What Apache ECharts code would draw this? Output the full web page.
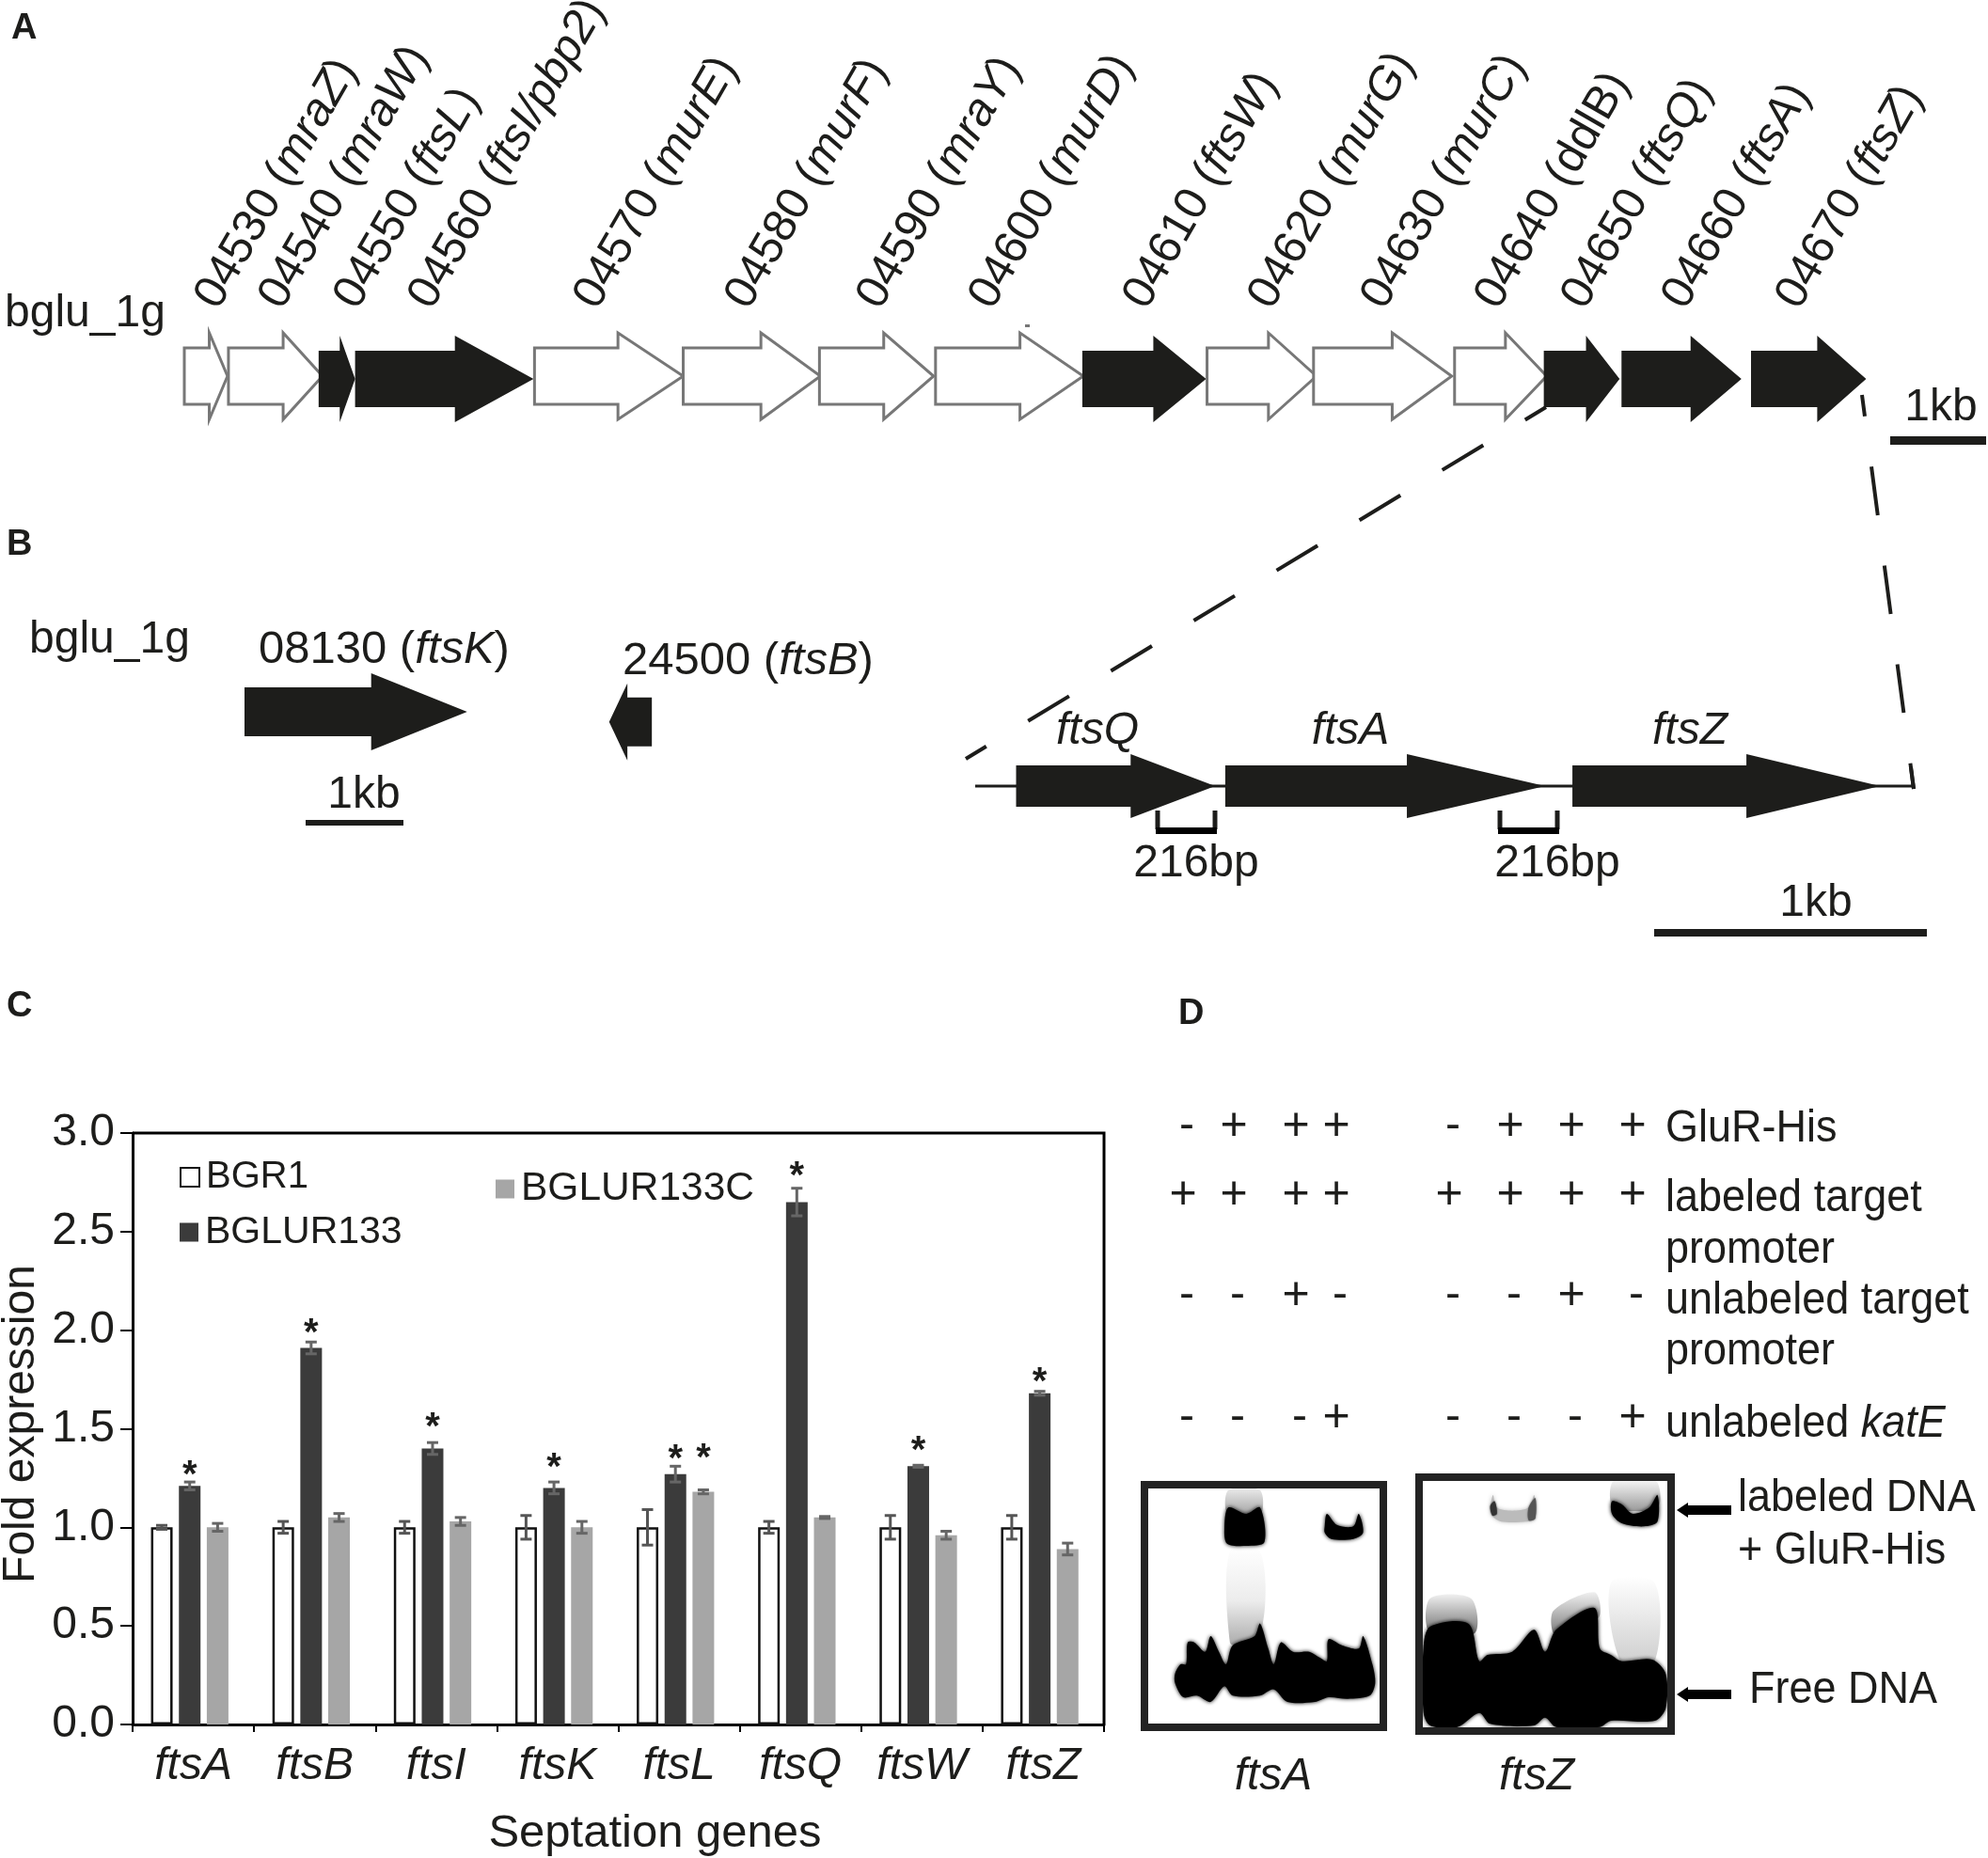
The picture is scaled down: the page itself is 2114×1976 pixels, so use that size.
<!DOCTYPE html>
<html><head><meta charset="utf-8">
<style>html,body{margin:0;padding:0;background:#fff}#c{width:2114px;height:1976px}</style>
<script src="https://cdn.jsdelivr.net/npm/echarts@6/dist/echarts.min.js"></script></head>
<body><div id="c"></div>
<script>
// ---------- data ----------
const categories = ['ftsA','ftsB','ftsI','ftsK','ftsL','ftsQ','ftsW','ftsZ'];
const bgr1      = [1.00,1.00,1.00,1.00,1.00,1.00,1.00,1.00];
const bgr1Err   = [0.01,0.03,0.03,0.06,0.09,0.03,0.06,0.06];
const mutant    = [1.21,1.91,1.40,1.20,1.27,2.65,1.31,1.68];
const mutantErr = [0.02,0.03,0.03,0.03,0.04,0.07,0.005,0.01];
const compl     = [1.00,1.05,1.03,1.00,1.18,1.05,0.96,0.89];
const complErr  = [0.02,0.02,0.02,0.03,0.01,0.005,0.02,0.03];
const mutantStars = [1.29,2.01,1.53,1.325,1.37,2.805,1.41,1.76];
const complStars  = [null,null,null,null,1.375,null,null,null];
const yTicks = ['0.0','0.5','1.0','1.5','2.0','2.5','3.0'];

// operon genes: locus, name, start kb, head base kb, end kb, essential (filled)
const geneIds   = ['04530','04540','04550','04560','04570','04580','04590','04600','04610','04620','04630','04640','04650','04660','04670'];
const geneNames = ['mraZ','mraW','ftsL','ftsI/pbp2','murE','murF','mraY','murD','ftsW','murG','murC','ddlB','ftsQ','ftsA','ftsZ'];
const geneStart = [0,0.46,1.40,1.78,3.65,5.20,6.62,7.83,9.36,10.66,11.77,13.24,14.17,14.98,16.33];
const geneBase  = [0.26,1.03,1.62,2.82,4.52,6.01,7.29,8.71,10.10,11.30,12.59,13.77,14.61,15.70,17.02];
const geneEnd   = [0.45,1.44,1.78,3.64,5.20,6.63,7.81,9.37,10.65,11.80,13.21,14.20,14.96,16.23,17.53];
const geneFill  = [0,0,1,1,0,0,0,0,1,0,0,0,1,1,1];
const geneItalic= [1,1,1,1,1,1,1,1,1,1,1,0,1,1,1];
// other loci
const looseGenes = [[0,1.32,2.32,1,0],[4.245,3.99,3.80,1,-0.18]];   // ftsK, ftsB
const zoomGenes  = [[0.15,0.57,0.88,1],[0.917,1.583,2.09,1],[2.19,2.828,3.318,1]]; // ftsQ, ftsA, ftsZ
const backbone   = [[0,0],[3.44,0]];
// EMSA table
const emsaRows = {
  'GluR-His':            ['-','+','+','+','-','+','+','+'],
  'labeled target':      ['+','+','+','+','+','+','+','+'],
  'unlabeled target':    ['-','-','+','-','-','-','+','-'],
  'unlabeled katE':      ['-','-','-','+','-','-','-','+']
};

// ---------- layout ----------
const F='"Liberation Sans"', INK='#1d1d1b';
const geneLabelX=[220,288,368,447,623,784,924,1043,1207,1340,1460,1581,1673,1780,1901];
const emsaX=[1258,1312,1378,1421,1541,1606,1671,1736];
const emsaY={'GluR-His':1198,'labeled target':1271,'unlabeled target':1378,'unlabeled katE':1508};

function txt(x,y,text,opt){opt=opt||{};
  const st={text:text,font:(opt.style||'')+' '+(opt.size||48)+'px '+F,fill:opt.fill||INK,textAlign:opt.align||'left',textVerticalAlign:'middle'};
  if(opt.rich)st.rich=opt.rich;
  const e={type:'text',x:x,y:y+3,z:5,style:st};
  if(opt.sy)e.scaleY=opt.sy;
  return e;
}
const RICH49={i:{fontFamily:F,fontSize:49,fontStyle:'italic',fill:INK},n:{fontFamily:F,fontSize:49,fill:INK}};
const RICHD={i:{fontFamily:F,fontSize:45,fontStyle:'italic',fill:INK},n:{fontFamily:F,fontSize:45,fill:INK}};
function mixed(x,y,a,b,c){return txt(x,y,'{n|'+a+'}{i|'+b+'}{n|'+c+'}',{rich:RICH49});}
function poly(points,fill,blur,smooth){return {type:'polygon',z:3,shape:{points:points,smooth:smooth||0},style:{fill:fill,shadowBlur:blur||0,shadowColor:typeof fill==='string'?fill:'#bbb'}};}
function fade(x){return {type:'linear',x:0,y:0,x2:0,y2:1,colorStops:x};}
function seg(pts,w,dash,off){return {type:'polyline',z:1,shape:{points:pts},style:{stroke:INK,lineWidth:w,fill:null,lineDash:dash||null,lineDashOffset:off||0}};}
function rect(x,y,w,h,fill){return {type:'rect',z:3,shape:{x:x,y:y,width:w,height:h},style:{fill:fill}};}
function frame(x,y,w,h,t){return {type:'rect',z:4,shape:{x:x+t/2,y:y+t/2,width:w-t,height:h-t},style:{fill:'none',stroke:'#232323',lineWidth:t}};}
const gz=p=>p.map(q=>[1200+q[0]/1.7155,1540+q[1]/3]);
const S=0.3;
const gelA=[
 poly(gz([[185,330],[240,330],[245,560],[205,630],[185,620]]),fade([{offset:0,color:'#ffffff'},{offset:0.55,color:'#ececec'},{offset:1,color:'#aaaaaa'}]),0,S),
 poly(gz([[182,135],[240,135],[240,215],[182,215]]),fade([{offset:0,color:'#eeeeee'},{offset:1,color:'#999999'}]),0,S),
 poly(gz([[85,720],[95,690],[105,690],[108,620],[120,620],[140,650],[150,600],[165,650],[178,690],[190,630],[230,600],[240,560],[255,640],[265,690],[278,620],[300,650],[330,650],[350,670],[362,680],[365,610],[390,630],[420,640],[428,600],[445,690],[450,750],[440,790],[400,800],[365,795],[340,810],[290,810],[265,770],[240,790],[190,790],[175,760],[150,810],[125,790],[100,795],[85,750]]),'#000',4,S),
 poly(gz([[175,260],[182,190],[215,210],[240,190],[248,300],[215,312],[180,305]]),'#000',4,S),
 poly(gz([[358,250],[362,210],[380,245],[410,250],[420,210],[428,270],[410,290],[370,290],[358,270]]),'#000',4,S)
];
const gelZ=[
 poly(gz([[550,480],[625,480],[632,590],[550,590]]),fade([{offset:0,color:'#f0f0f0'},{offset:1,color:'#666666'}]),0,S),
 poly(gz([[775,520],[850,460],[858,540],[780,600]]),fade([{offset:0,color:'#f0f0f0'},{offset:1,color:'#777777'}]),0,S),
 poly(gz([[880,430],[960,430],[960,680],[900,690]]),fade([{offset:0,color:'#ffffff'},{offset:1,color:'#cccccc'}]),0,S),
 poly(gz([[885,105],[962,105],[965,190],[885,190]]),fade([{offset:0,color:'#ffffff'},{offset:1,color:'#999999'}]),0,S),
 poly(gz([[538,640],[550,570],[620,560],[640,680],[655,660],[700,650],[740,580],[760,650],[780,580],[850,510],[860,640],[880,660],[900,680],[955,675],[980,720],[980,830],[960,870],[880,870],[860,890],[780,890],[760,860],[740,885],[660,880],[640,845],[600,890],[550,885],[538,840]]),'#000',4,S),
 poly(gz([[882,170],[900,180],[920,210],[950,190],[965,150],[965,235],[940,250],[900,240],[882,210]]),'#000',4,S),
 poly(gz([[660,200],[665,150],[672,190],[700,200],[730,190],[740,150],[742,225],[725,235],[680,235],[665,220]]),'#bbb',4,S),
 poly(gz([[660,185],[668,170],[672,210],[664,215]]),'#333',2,S),
 poly(gz([[730,190],[742,160],[742,225],[730,230]]),'#555',2,S)
];
const bigArrow=(cy)=>poly([[1783,cy],[1795,cy-8],[1795,cy-5],[1841,cy-5],[1841,cy+5],[1795,cy+5],[1795,cy+8]],'#000');
const D={size:45,sy:1.07};

const graphics=[
 txt(12,28,'A',{style:'bold',size:38}),txt(7,577,'B',{style:'bold',size:38}),txt(7,1068,'C',{style:'bold',size:38}),txt(1253,1076,'D',{style:'bold',size:38}),
 txt(5,331,'bglu_1g'),txt(31,678,'bglu_1g'),
 txt(2064,431,'1kb',{align:'center'}),rect(2010,464,102,9,INK),
 mixed(275,688,'08130 (','ftsK',')'),mixed(662,700,'24500 (','ftsB',')'),
 txt(387,843,'1kb',{align:'center'}),rect(325,872,104,6,INK),
 seg([[1644,433],[1027,807]],4,[51,52],25),seg([[1980,420],[2035,839]],4,[52,54],29),seg([[2032,816],[2035,839]],4),
 rect(1090,345,5,3,'#777'),
 txt(1167,775,'ftsQ',{style:'italic',align:'center'}),txt(1436,775,'ftsA',{style:'italic',align:'center'}),txt(1797,775,'ftsZ',{style:'italic',align:'center'}),
 seg([[1231,862],[1231,882]],5),seg([[1292,862],[1292,882]],5),rect(1229,880,65,7,'#000'),
 seg([[1595,862],[1595,882]],5),seg([[1656,862],[1656,882]],5),rect(1593,880,65,7,'#000'),
 txt(1272,916,'216bp',{align:'center'}),txt(1656,916,'216bp',{align:'center'}),
 txt(1931,958,'1kb',{align:'center'}),rect(1759,988,290,8,INK),
 txt(1771,1198,'GluR-His',D),txt(1771,1272,'labeled target',D),txt(1771,1327,'promoter',D),
 txt(1771,1381,'unlabeled target',D),txt(1771,1435,'promoter',D),
 txt(1771,1512,'{n|unlabeled }{i|katE}',{rich:RICHD,sy:1.07}),
 ...gelA,...gelZ,frame(1213,1575,262,266,8),frame(1505,1567,276,278,8),
 bigArrow(1606),bigArrow(1802),
 txt(1848,1591,'labeled DNA',D),txt(1848,1647,'+ GluR-His',D),txt(1860,1795,'Free DNA',D),
 txt(1354,1887,'ftsA',{style:'italic',align:'center'}),txt(1634,1887,'ftsZ',{style:'italic',align:'center'})
];
Object.keys(emsaRows).forEach(k=>emsaRows[k].forEach((s,i)=>graphics.push(txt(emsaX[i]+(s==='-'?4:0),emsaY[k]-3,s,{align:'center',size:s==='-'?48:50}))));
graphics.push({type:'polyline',z:2,shape:{points:[[141,1205],[1174,1205],[1174,1834]]},style:{stroke:'#000',lineWidth:3,fill:null}});

// ---------- series ----------
function arrowSeries(name,data,xi,body,head,filledDrop){
  return {type:'custom',name:name,xAxisIndex:xi,yAxisIndex:xi,z:4,clip:false,silent:true,
    encode:{x:[0,1,2],y:4},data:data.map(d=>[d[0],d[1],d[2],d[3],d[4]||0]),
    renderItem:(p,api)=>{
      const y=api.value(4),a=api.coord([api.value(0),y]),b=api.coord([api.value(1),y]),c=api.coord([api.value(2),y]);
      const f=api.value(3);const cy=a[1]+(f?filledDrop:0);
      return {type:'polygon',shape:{points:[[a[0],cy-body],[b[0],cy-body],[b[0],cy-head],[c[0],cy],[b[0],cy+head],[b[0],cy+body],[a[0],cy+body]]},
        style:{fill:f?INK:'#fff',stroke:f?INK:'#777',lineWidth:f?0:3,lineJoin:'miter'}};
    }};
}
const operon=geneIds.map((_,i)=>[geneStart[i],geneBase[i],geneEnd[i],geneFill[i]]);
const labelSeries={type:'custom',name:'gene labels',xAxisIndex:0,yAxisIndex:0,z:5,silent:true,clip:false,
  encode:{x:0,y:1},data:geneIds.map((_,i)=>[(geneLabelX[i]-196)/102,0,i]),
  renderItem:(p,api)=>{const i=api.value(2),c=api.coord([api.value(0),0]);
    const g=geneItalic[i]?'i':'n';
    return {type:'text',x:c[0],y:324,rotation:Math.PI/3,
      style:{x:0,y:0,text:'{n|'+geneIds[i]+' (}{'+g+'|'+geneNames[i]+'}{n|)}',rich:RICH49,textAlign:'left',textVerticalAlign:'middle',font:'49px '+F,fill:INK}};}
};
const BW=23,STEP=29.7,GAP='29%',SPACER=1,SHIFT=-3.85; // the thin empty bar moves each group left of its band centre, as in the figure
function errSeries(name,values,errs,slot,color){
  return {type:'custom',name:name,xAxisIndex:3,yAxisIndex:3,z:6,silent:true,clip:false,legendHoverLink:false,
    encode:{x:0,y:[1,2]},data:values.map((v,i)=>[i,v-errs[i],v+errs[i]]),
    renderItem:(p,api)=>{
      const c=api.value(0),lo=api.coord([c,api.value(1)]),hi=api.coord([c,api.value(2)]);
      const x=lo[0]+slot*STEP+SHIFT,w=6;
      return {type:'group',children:[
        {type:'line',shape:{x1:x,y1:lo[1],x2:x,y2:hi[1]},style:{stroke:color,lineWidth:3}},
        {type:'line',shape:{x1:x-w,y1:lo[1],x2:x+w,y2:lo[1]},style:{stroke:color,lineWidth:3}},
        {type:'line',shape:{x1:x-w,y1:hi[1],x2:x+w,y2:hi[1]},style:{stroke:color,lineWidth:3}}]};
    }};
}
function starSeries(values,slot){
  return {type:'custom',name:'significance',xAxisIndex:3,yAxisIndex:3,z:7,silent:true,clip:false,
    encode:{x:0,y:1},data:values.map((v,i)=>[i,v]).filter(d=>d[1]!=null),
    renderItem:(p,api)=>{const c=api.coord([api.value(0),api.value(1)]);
      return {type:'text',x:c[0]+slot*STEP+SHIFT,y:c[1]+6,style:{text:'*',font:'bold 40px '+F,fill:INK,textAlign:'center',textVerticalAlign:'middle'}};}};
}
const hiddenAxis=(g,min,max)=>({type:'value',gridIndex:g,min:min,max:max,show:false});
const leg=(name,left,top,size)=>({show:true,data:[name],left:left,top:top,orient:'horizontal',icon:'rect',itemWidth:20,itemHeight:20,itemGap:6,selectedMode:false,padding:0,
   textStyle:{fontFamily:F,fontSize:size,color:INK,padding:[0,0,0,2]}});
const noBounds={outerBoundsMode:'none',containLabel:false};

const option={
 backgroundColor:'#fff',animation:false,
 textStyle:{fontFamily:F},
 graphic:{elements:graphics},
 grid:[
  {left:196,top:352,width:1918,height:96,...noBounds},
  {left:260,top:697,width:1000,height:120,...noBounds},
  {left:1037,top:796,width:1077,height:80,...noBounds},
  {left:141,top:1205,width:1033,height:629,show:false,...noBounds}
 ],
 xAxis:[hiddenAxis(0,0,18.8),hiddenAxis(1,0,9.8),hiddenAxis(2,0,3.714),
  {type:'category',gridIndex:3,data:categories,position:'bottom',
   axisLine:{show:true,lineStyle:{color:'#000',width:3}},
   axisTick:{show:true,length:8,alignWithLabel:false,lineStyle:{color:'#000',width:2}},
   axisLabel:{fontFamily:F,fontSize:48,fontStyle:'italic',color:INK,margin:21},
   name:'Septation genes',nameLocation:'middle',nameGap:92,nameMoveOverlap:false,
   nameTextStyle:{fontFamily:F,fontSize:49,color:INK,padding:[0,0,0,78]}}],
 yAxis:[hiddenAxis(0,-1,1),hiddenAxis(1,-1,1),hiddenAxis(2,-1,1),
  {type:'value',gridIndex:3,min:0,max:3,interval:0.5,
   splitLine:{show:false},
   axisLine:{show:true,lineStyle:{color:'#000',width:3}},
   axisTick:{show:true,length:13,lineStyle:{color:'#000',width:2}},
   axisLabel:{fontFamily:F,fontSize:48,color:INK,margin:19,padding:[0,0,14,0],formatter:(v)=>yTicks[Math.round(v*2)]},
   name:'Fold expression',nameLocation:'middle',nameGap:94,nameRotate:90,nameMoveOverlap:false,
   nameTextStyle:{fontFamily:F,fontSize:48,color:INK,padding:[0,0,0,10]}}],
 legend:[leg('BGR1',191,1232,40),leg('BGLUR133',191,1290,41),leg('BGLUR133C',527,1243,42.5)],
 series:[
  {type:'line',name:'chromosome',xAxisIndex:2,yAxisIndex:2,data:backbone,showSymbol:false,silent:true,z:2,lineStyle:{color:INK,width:3}},
  arrowSeries('operon',operon,0,30,46,3),
  labelSeries,
  arrowSeries('other loci',looseGenes,1,26,41,0),
  arrowSeries('ftsQAZ',zoomGenes,2,22,34,0),
  {type:'bar',name:'BGR1',xAxisIndex:3,yAxisIndex:3,data:bgr1,barWidth:BW,barGap:GAP,itemStyle:{color:'#fff',borderColor:'#111',borderWidth:2.5}},
  {type:'bar',name:'BGLUR133',xAxisIndex:3,yAxisIndex:3,data:mutant,barWidth:BW,barGap:GAP,itemStyle:{color:'#3b3b3b'}},
  {type:'bar',name:'BGLUR133C',xAxisIndex:3,yAxisIndex:3,data:compl,barWidth:BW,barGap:GAP,itemStyle:{color:'#a6a6a6'}},
  {type:'bar',name:'group offset',xAxisIndex:3,yAxisIndex:3,data:[],barWidth:SPACER,barGap:GAP,silent:true},
  errSeries('BGR1 error',bgr1,bgr1Err,-1,'#555'),
  errSeries('BGLUR133 error',mutant,mutantErr,0,'#666'),
  errSeries('BGLUR133C error',compl,complErr,1,'#666'),
  starSeries(mutantStars,0),starSeries(complStars,1)
 ]
};
echarts.init(document.getElementById('c'),null,{renderer:'canvas'}).setOption(option);
</script></body></html>
